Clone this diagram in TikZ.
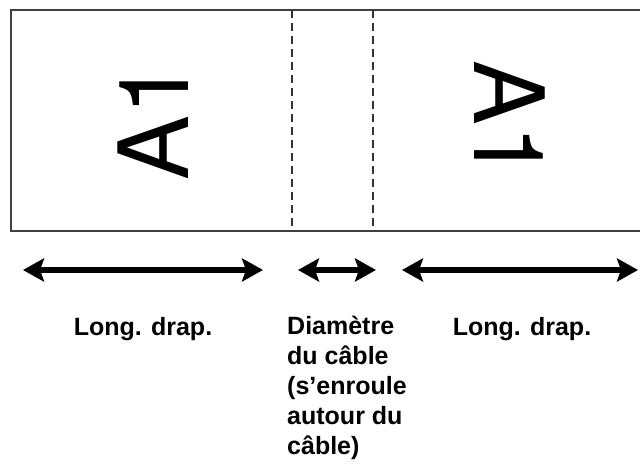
\documentclass[tikz,border=0pt]{standalone}
\usepackage{fontspec}
\setmainfont{Liberation Sans}
\newfontfamily\heros{TeX Gyre Heros}
\usetikzlibrary{arrows.meta}
\begin{document}
\begin{tikzpicture}[x=1pt,y=-1pt,
  strip/.style={draw=black!75, line width=1.8pt},
  fold/.style={draw=black!80, line width=1.3pt, dash pattern=on 8pt off 5pt},
  dimarrow/.style={line width=5.5pt, {Stealth[length=21pt,width=23pt,inset=4pt]}-{Stealth[length=21pt,width=23pt,inset=4pt]}},
  big/.style={font=\heros\fontsize{97}{97}\selectfont, inner sep=0pt},
  lbl/.style={font=\fontsize{25}{30}\selectfont\bfseries, inner sep=0pt}]
\useasboundingbox (0,0) rectangle (640,470);
\fill[white] (0,0) rectangle (640,470);
% strip
\coordinate (tr) at (646,10);
\coordinate (tl) at (11,10);
\coordinate (bl) at (11,231);
\coordinate (br) at (646,231);
\draw[strip] (tr) -- (tl) -- (bl) -- (br);
% fold lines
\coordinate (f1t) at (292,10);
\coordinate (f1b) at (292,231);
\coordinate (f2t) at (373,10);
\coordinate (f2b) at (373,231);
\draw[fold] (f1t) -- (f1b);
\draw[fold] (f2t) -- (f2b);
% texts on strip
\node[big, rotate=90] (a1left) at (153,121) {A1};
\node[big, rotate=-90] (a1right) at (510,120) {A1};
% dimension arrows
\coordinate (d1a) at (23,270);
\coordinate (d1b) at (263,270);
\coordinate (d2a) at (298,270);
\coordinate (d2b) at (376,270);
\coordinate (d3a) at (402,270);
\coordinate (d3b) at (638,270);
\draw[dimarrow] (d1a) -- (d1b);
\draw[dimarrow] (d2a) -- (d2b);
\draw[dimarrow] (d3a) -- (d3b);
% labels
\node[lbl, anchor=base] (lab1) at (143,335) {Long. drap.};
\node[lbl, anchor=north west, align=left] (lab2) at (287,316) {Diamètre\\du câble\\(s’enroule\\autour du\\câble)};
\node[lbl, anchor=base] (lab3) at (522,335) {Long. drap.};
\end{tikzpicture}
\end{document}
